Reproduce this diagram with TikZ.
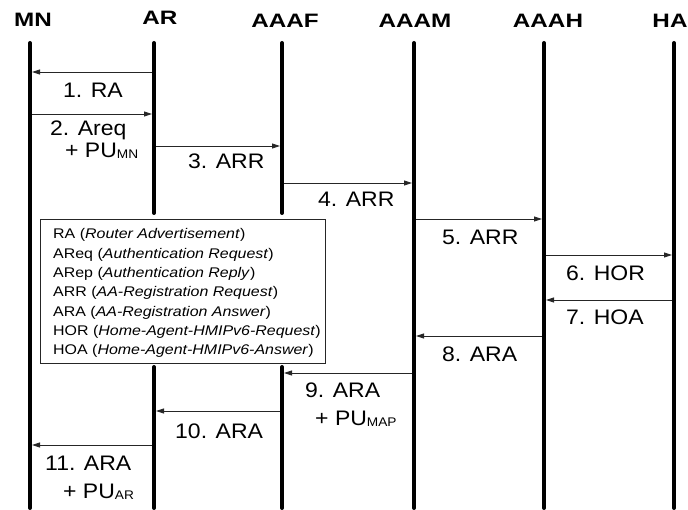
\documentclass[tikz,border=0pt]{standalone}
\usepackage{fontspec}
\setmainfont{Liberation Sans}
\usetikzlibrary{arrows.meta}
\newcommand\hdr[1]{\scalebox{1.25}[1]{\fontsize{19.4}{21}\selectfont\bfseries #1}}
\newcommand\lbl[1]{\scalebox{1.095}[1]{\fontsize{21}{23}\selectfont #1}}
\newcommand\lgd[1]{\scalebox{1.14}[1]{\fontsize{14}{16}\selectfont #1}}
\newcommand\sbs[1]{\raisebox{-1pt}{\fontsize{12.5}{13}\selectfont #1}}
\begin{document}
\begin{tikzpicture}[x=1pt,y=-1pt,
  life/.style={line width=4pt, line cap=round},
  msg/.style={line width=0.9pt, black!85, -{Triangle[length=8pt,width=5pt]}, shorten <=2pt, shorten >=2pt},
  txt/.style={inner sep=0pt, anchor=base west},
  head/.style={inner sep=0pt, anchor=base}]
\useasboundingbox (0,0) rectangle (688,510);
% headers
\node[head] (hMN) at (33,27) {\hdr{MN}};
\node[head] (hAR) at (160,25) {\hdr{AR}};
\node[head] (hAAAF) at (285,28) {\hdr{AAAF}};
\node[head] (hAAAM) at (415,28) {\hdr{AAAM}};
\node[head] (hAAAH) at (548,28) {\hdr{AAAH}};
\node[head] (hHA) at (670,28) {\hdr{HA}};
% lifeline coordinates
\coordinate (MN) at (30,43);   \coordinate (MNb) at (30,508);
\coordinate (AR) at (154,43);  \coordinate (ARu) at (154,213); \coordinate (ARl) at (154,367); \coordinate (ARb) at (154,508);
\coordinate (AF) at (282,43);  \coordinate (AFu) at (282,213); \coordinate (AFl) at (282,367); \coordinate (AFb) at (282,508);
\coordinate (AM) at (414,43);  \coordinate (AMb) at (414,508);
\coordinate (AH) at (544,43);  \coordinate (AHb) at (544,508);
\coordinate (HA) at (674,43);  \coordinate (HAb) at (674,508);
\draw[life] (MN) -- (MNb);
\draw[life] (AR) -- (ARu);
\draw[life] (ARl) -- (ARb);
\draw[life] (AF) -- (AFu);
\draw[life] (AFl) -- (AFb);
\draw[life] (AM) -- (AMb);
\draw[life] (AH) -- (AHb);
\draw[life] (HA) -- (HAb);
% message levels
\coordinate (y1) at (0,72);
\coordinate (y2) at (0,114);
\coordinate (y3) at (0,146);
\coordinate (y4) at (0,183);
\coordinate (y5) at (0,219);
\coordinate (y6) at (0,255);
\coordinate (y7) at (0,300);
\coordinate (y8) at (0,336);
\coordinate (y9) at (0,373);
\coordinate (y10) at (0,411);
\coordinate (y11) at (0,445);
\draw[msg] (AR |- y1) -- (MN |- y1);
\draw[msg] (MN |- y2) -- (AR |- y2);
\draw[msg] (AR |- y3) -- (AF |- y3);
\draw[msg] (AF |- y4) -- (AM |- y4);
\draw[msg] (AM |- y5) -- (AH |- y5);
\draw[msg] (AH |- y6) -- (HA |- y6);
\draw[msg] (HA |- y7) -- (AH |- y7);
\draw[msg] (AH |- y8) -- (AM |- y8);
\draw[msg] (AM |- y9) -- (AF |- y9);
\draw[msg] (AF |- y10) -- (AR |- y10);
\draw[msg] (AR |- y11) -- (MN |- y11);
% labels
\node[txt] (l1) at (63,98) {\lbl{1. RA}};
\node[txt] (l2) at (50,136) {\lbl{2. Areq}};
\node[txt] (l2b) at (65,158) {\lbl{+ PU\sbs{MN}}};
\node[txt] (l3) at (188,169) {\lbl{3. ARR}};
\node[txt] (l4) at (318,207) {\lbl{4. ARR}};
\node[txt] (l5) at (442,245) {\lbl{5. ARR}};
\node[txt] (l6) at (566,281) {\lbl{6. HOR}};
\node[txt] (l7) at (566,325) {\lbl{7. HOA}};
\node[txt] (l8) at (442,362) {\lbl{8. ARA}};
\node[txt] (l9) at (305,398) {\lbl{9. ARA}};
\node[txt] (l9b) at (315,425) {\lbl{+ PU\sbs{MAP}}};
\node[txt] (l10) at (175,438) {\lbl{10. ARA}};
\node[txt] (l11) at (45,470) {\lbl{11. ARA}};
\node[txt] (l11b) at (63,498) {\lbl{+ PU\sbs{AR}}};
% legend
\node[draw, line width=0.8pt, black!85, fill=white, minimum width=285pt, minimum height=144pt, anchor=north west, inner sep=0pt] (legend) at (40,219) {};
\node[txt] (g1) at (53,239) {\lgd{RA (\textit{Router Advertisement})}};
\node[txt] (g2) at (53,258.3) {\lgd{AReq (\textit{Authentication Request})}};
\node[txt] (g3) at (53,277.7) {\lgd{ARep (\textit{Authentication Reply})}};
\node[txt] (g4) at (53,297) {\lgd{ARR (\textit{AA-Registration Request})}};
\node[txt] (g5) at (53,316.3) {\lgd{ARA (\textit{AA-Registration Answer})}};
\node[txt] (g6) at (53,335.7) {\lgd{HOR (\textit{Home-Agent-HMIPv6-Request})}};
\node[txt] (g7) at (53,355) {\lgd{HOA (\textit{Home-Agent-HMIPv6-Answer})}};
\end{tikzpicture}
\end{document}
